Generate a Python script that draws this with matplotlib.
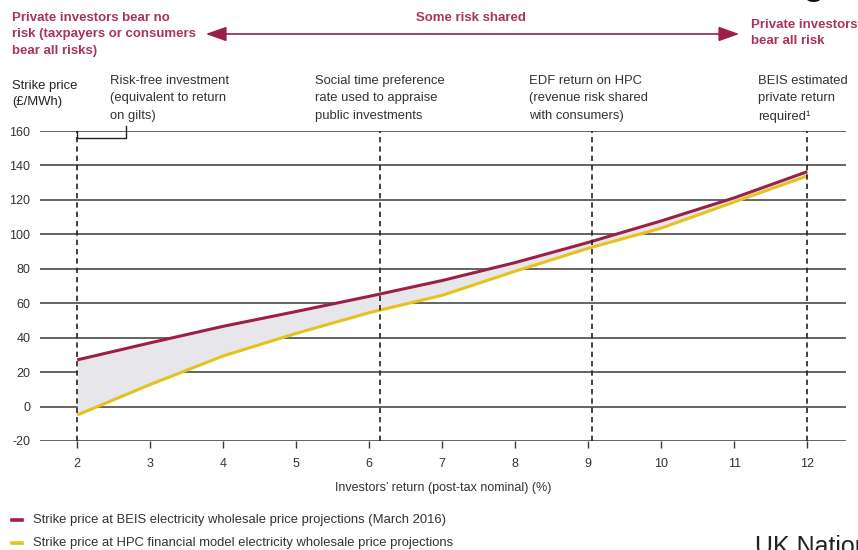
import matplotlib
matplotlib.use("Agg")
import matplotlib.pyplot as plt
from matplotlib.lines import Line2D
from matplotlib.patches import FancyArrowPatch

plt.rcParams['font.family'] = ['Liberation Sans', 'DejaVu Sans']

# Investors' return (%) and resulting strike prices (£/MWh)
returns = [2, 3, 4, 5, 6, 7, 8, 9, 10, 11, 12]
beis_strike = [27.1, 37.0, 46.6, 55.2, 64.0, 73.2, 83.6, 95.3, 107.8, 121.2, 136.4]
hpc_strike = [-4.9, 12.8, 29.4, 42.5, 54.5, 64.6, 78.6, 91.9, 103.6, 118.8, 133.9]

# Reference rates of return marked with dashed lines
marker_returns = [2, 6.15, 9.05, 12]
marker_labels = [
    "Risk-free investment\n(equivalent to return\non gilts)",
    "Social time preference\nrate used to appraise\npublic investments",
    "EDF return on HPC\n(revenue risk shared\nwith consumers)",
    "BEIS estimated\nprivate return\nrequired\u00b9",
]
y_ticks = [-20, 0, 20, 40, 60, 80, 100, 120, 140, 160]
legend_labels = [
    "Strike price at BEIS electricity wholesale price projections (March 2016)",
    "Strike price at HPC financial model electricity wholesale price projections",
]

RED = "#9c1f45"
YELLOW = "#e3c31c"
HEAD = "#a8345c"
TXT = "#333333"
GRID = "#3a3a3a"

W, H = 858, 550
fig = plt.figure(figsize=(W / 100, H / 100), dpi=100)


def fx(px):
    return px / W


def fy(py):
    return 1 - py / H


ax = fig.add_axes([fx(40), fy(441), fx(846 - 40), (441 - 131) / H])
ax.set_xlim(1.49, 12.53)
ax.set_ylim(-20, 160)
for s in ax.spines.values():
    s.set_visible(False)

for yv in y_ticks:
    ax.axhline(yv, color=GRID, lw=1.1, zorder=1)

ax.fill_between(returns, hpc_strike, beis_strike, color="#e7e7eb", zorder=2, lw=0)
ax.plot(returns, beis_strike, color=RED, lw=2.2, zorder=4, solid_capstyle="butt")
ax.plot(returns, hpc_strike, color=YELLOW, lw=2.2, zorder=3, solid_capstyle="butt")

for xv in marker_returns:
    ax.plot([xv, xv], [-20, 160], color="#222222", lw=1.2,
            linestyle=(0, (3.2, 2.4)), zorder=5, clip_on=False)

# bracket below the risk-free label
ax.plot([2, 2, 2.67, 2.67], [160, 155.8, 155.8, 162.9], color="#222222",
        lw=1.0, clip_on=False, zorder=5)

ax.set_yticks(y_ticks)
ax.set_yticklabels([str(v) for v in y_ticks])
ax.tick_params(axis="y", length=0, pad=7, labelsize=9, labelcolor=TXT)
ax.set_xticks(returns)
ax.set_xticklabels([str(v) for v in returns])
ax.tick_params(axis="x", length=5, width=1.0, color=GRID, direction="out",
               pad=7, labelsize=9, labelcolor=TXT)
ax.set_xlabel("Investors\u2019 return (post-tax nominal) (%)", fontsize=9,
              color=TXT, labelpad=9)

# y-axis title
fig.text(fx(12), fy(80), "Strike price\n(\u00a3/MWh)", fontsize=9.4, color="#222222",
         va="top", ha="left", linespacing=1.5)

# labels above the dashed lines
label_px = [110, 315, 529, 758]
for px, lab in zip(label_px, marker_labels):
    fig.text(fx(px), fy(75), lab, fontsize=9.4, color=TXT, va="top", ha="left",
             linespacing=1.6)

# risk-sharing header
fig.text(fx(12), fy(12), "Private investors bear no\nrisk (taxpayers or consumers\nbear all risks)",
         fontsize=9.5, fontweight="bold", color=HEAD, va="top", ha="left",
         linespacing=1.48)
fig.text(fx(471), fy(12), "Some risk shared", fontsize=9.5, fontweight="bold",
         color=HEAD, va="top", ha="center")
fig.text(fx(751), fy(19), "Private investors\nbear all risk", fontsize=9.5,
         fontweight="bold", color=HEAD, va="top", ha="left", linespacing=1.48)
fig.add_artist(FancyArrowPatch(
    (fx(203), fy(34)), (fx(742), fy(34)), transform=fig.transFigure,
    arrowstyle="<|-|>,head_length=0.9,head_width=0.32", mutation_scale=14,
    color=RED, lw=1.2))

# legend
legend_y = [520, 543]
for yy, col, lab in zip(legend_y, [RED, YELLOW], legend_labels):
    fig.add_artist(Line2D([fx(12), fx(22)], [fy(yy), fy(yy)], color=col, lw=2.6,
                          transform=fig.transFigure))
    fig.text(fx(33), fy(yy), lab, fontsize=9.4, color=TXT, va="center", ha="left")

# publisher mark cut at the page edges
fig.text(fx(755), fy(535), "UK National Audit Office", fontsize=18, color="#222222",
         va="top", ha="left")
fig.text(fx(803), fy(-6), "g", fontsize=26, fontweight="bold", color="#111111",
         va="baseline", ha="left")

fig.savefig("out.png", dpi=100)
